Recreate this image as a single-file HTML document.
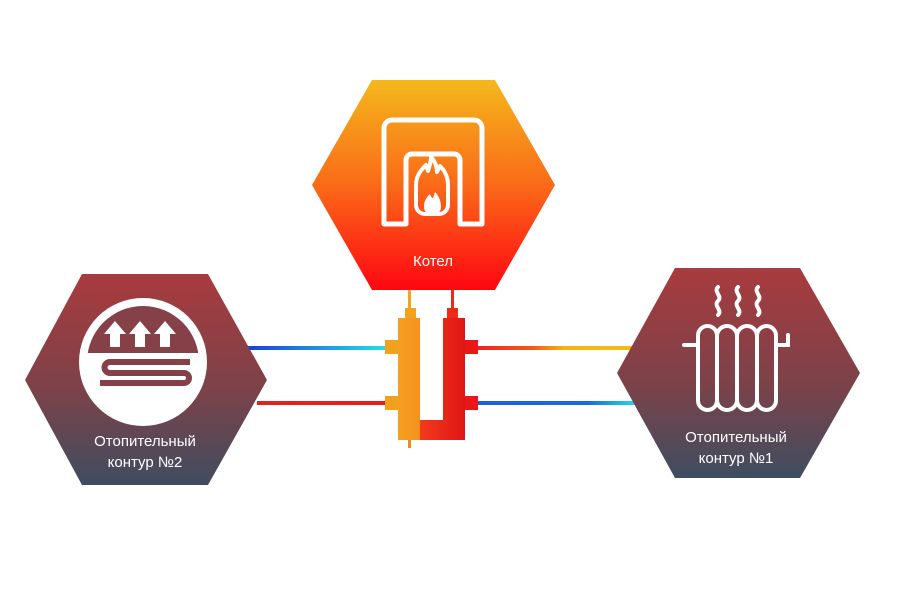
<!DOCTYPE html>
<html><head><meta charset="utf-8"><style>
body{margin:0;background:#fff;width:900px;height:600px;overflow:hidden}
svg text{font-family:"Liberation Sans",sans-serif;fill:#fff}
</style></head><body>
<svg width="900" height="600" viewBox="0 0 900 600" xmlns="http://www.w3.org/2000/svg">
<defs>
<linearGradient id="gb" x1="0" y1="0" x2="0" y2="1"><stop offset="0" stop-color="#f4b81c"/><stop offset="0.5" stop-color="#fb6a18"/><stop offset="1" stop-color="#fe0612"/></linearGradient>
<linearGradient id="gh" x1="0" y1="0" x2="0" y2="1"><stop offset="0" stop-color="#a83b3e"/><stop offset="0.55" stop-color="#7c4249"/><stop offset="1" stop-color="#3f4d60"/></linearGradient>
<linearGradient id="lb" x1="0" x2="1"><stop offset="0" stop-color="#1a3fd8"/><stop offset="1" stop-color="#22e0e8"/></linearGradient>
<linearGradient id="lr" x1="0" x2="1"><stop offset="0" stop-color="#e52020"/><stop offset="1" stop-color="#f01a1a"/></linearGradient>
<linearGradient id="ly" x1="0" x2="1"><stop offset="0" stop-color="#ee2222"/><stop offset="0.35" stop-color="#f35a1a"/><stop offset="0.55" stop-color="#f4b414"/><stop offset="1" stop-color="#f4bd12"/></linearGradient>
<linearGradient id="lb2" x1="0" x2="1"><stop offset="0" stop-color="#1e5ee0"/><stop offset="0.7" stop-color="#1a6ae0"/><stop offset="1" stop-color="#20d8e6"/></linearGradient>
<linearGradient id="mo" x1="0" x2="1"><stop offset="0" stop-color="#f6a020"/><stop offset="1" stop-color="#f3731c"/></linearGradient>
<linearGradient id="mr" x1="0" x2="1"><stop offset="0" stop-color="#f23a1c"/><stop offset="1" stop-color="#e01616"/></linearGradient>
<clipPath id="cc"><circle cx="143" cy="362" r="56"/></clipPath>
</defs>
<rect x="247" y="346" width="140" height="4" fill="url(#lb)"/>
<rect x="257" y="401" width="130" height="4" fill="url(#lr)"/>
<rect x="478" y="346" width="157" height="4" fill="url(#ly)"/>
<rect x="478" y="401" width="157" height="4" fill="url(#lb2)"/>
<rect x="408" y="290" width="3" height="20" fill="#f5a21c"/>
<rect x="451" y="290" width="3" height="20" fill="#ef2a1a"/>
<rect x="385" y="340" width="14" height="14" fill="#f0a21e"/>
<rect x="385" y="396" width="14" height="14" fill="#f0a21e"/>
<rect x="464" y="340" width="14" height="14" fill="#e81818"/>
<rect x="464" y="396" width="14" height="14" fill="#e81818"/>
<rect x="405" y="308" width="11" height="12" fill="#f5a21c"/>
<rect x="447" y="308" width="11" height="12" fill="#ef2a1a"/>
<rect x="408" y="440" width="3" height="8" fill="#f08a1c"/>
<path d="M398 318h22v102h23V318h22v122H398z" fill="url(#mo)"/>
<path d="M443 318h22v122H420v-20h23z" fill="url(#mr)"/>
<polygon points="372,80 495,80 555,185 495,290 372,290 312,185" fill="url(#gb)"/>
<path d="M384 224V128a8 8 0 0 1 8-8h82a8 8 0 0 1 8 8v96h-22v-64a6 6 0 0 0-6-6h-42a6 6 0 0 0-6 6v64z" fill="none" stroke="#fff" stroke-width="5" stroke-linejoin="round"/>
<path d="M416 185c0-10 6-16 10-20l2 6c2-6 3-10 3-14 4 4 6 10 6 15l3-6c4 4 8 10 8 19v20a9 9 0 0 1-9 9h-14a9 9 0 0 1-9-9z" fill="none" stroke="#fff" stroke-width="4" stroke-linejoin="round"/>
<path d="M424 207c0-7 3-10 6-13 1 3 2 4 3 4l2-6c3 3 6 8 6 15a8.5 8.5 0 0 1-17 0z" fill="#fff"/>
<text x="433" y="266" font-size="15" text-anchor="middle">Котел</text>
<polygon points="82,274 208,274 267,380 208,485 82,485 25,380" fill="url(#gh)"/>
<circle cx="143" cy="362" r="64" fill="#fff"/>
<rect x="80" y="300" width="130" height="53" fill="#864048" clip-path="url(#cc)"/>
<g fill="#fff"><path d="M110 347v-13h-6l11-13 11 13h-6v13z"/><path d="M135 347v-13h-6l11-13 11 13h-6v13z"/><path d="M160 347v-13h-6l11-13 11 13h-6v13z"/></g>
<path d="M190 362H110a5.5 5.5 0 0 0 0 11h74a5 5 0 0 1 0 10H100" fill="none" stroke="#864048" stroke-width="6"/>
<text x="145" y="446" font-size="15" text-anchor="middle">Отопительный</text>
<text x="145" y="467" font-size="15" text-anchor="middle">контур  №2</text>
<polygon points="675,268 800,268 860,373 800,478 675,478 617,373" fill="url(#gh)"/>
<g fill="none" stroke="#fff" stroke-width="4" stroke-linecap="round">
<path d="M718 287c-5 5 5 9 0 14s5 9 0 14"/><path d="M738 287c-5 5 5 9 0 14s5 9 0 14"/><path d="M758 287c-5 5 5 9 0 14s5 9 0 14"/>
<path d="M684 345h14M776 345h12v-10"/>
<rect x="698" y="326" width="19" height="84" rx="9.5"/><rect x="717" y="326" width="20" height="84" rx="10"/><rect x="737" y="326" width="20" height="84" rx="10"/><rect x="757" y="326" width="19" height="84" rx="9.5"/>
</g>
<text x="736" y="442" font-size="15" text-anchor="middle">Отопительный</text>
<text x="736" y="463" font-size="15" text-anchor="middle">контур  №1</text>
</svg>
</body></html>
